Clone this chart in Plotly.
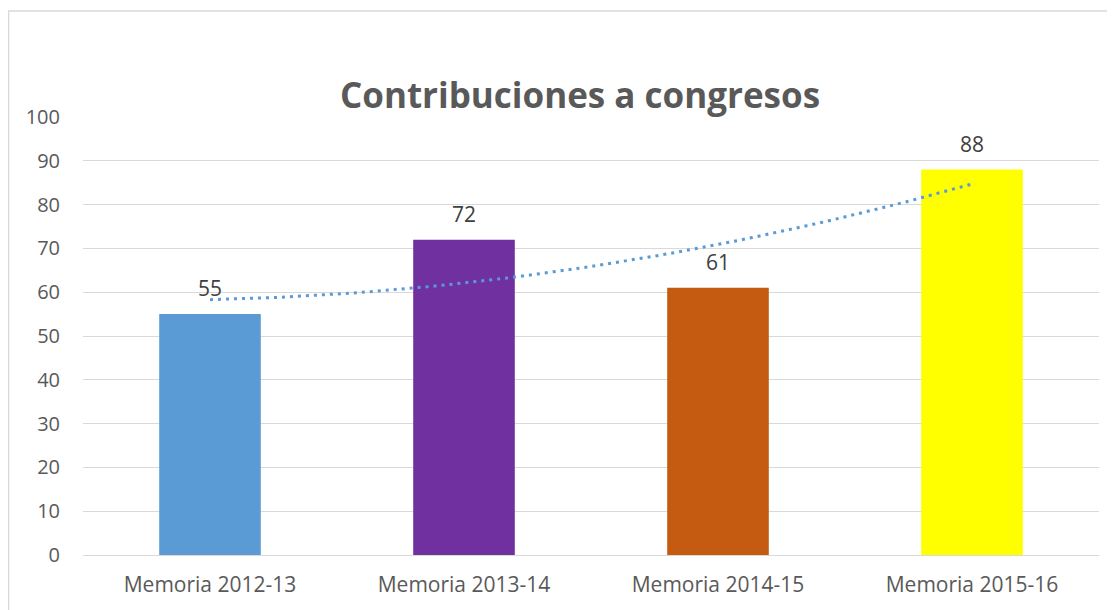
import numpy as np
import plotly.graph_objects as go

categories = ["Memoria 2012-13", "Memoria 2013-14", "Memoria 2014-15", "Memoria 2015-16"]
values = [55, 72, 61, 88]
bar_colors = ["#5B9BD5", "#7030A0", "#C55A11", "#FFFF00"]
y_ticks = list(range(0, 101, 10))

# Polynomial (order 2) trendline, as in the source spreadsheet
xi = np.arange(1, len(values) + 1)
coef = np.polyfit(xi, values, 2)
xs = np.linspace(0, len(values) - 1, 60)
trend = np.polyval(coef, xs + 1)

fig = go.Figure()
fig.add_trace(go.Bar(
    x=list(range(len(categories))), y=values, marker=dict(color=bar_colors, line=dict(width=0)),
    width=0.4, hoverinfo="skip", showlegend=False,
))
fig.add_trace(go.Scatter(
    x=xs, y=trend, mode="lines",
    line=dict(color="#5B9BD5", width=3, dash="3px,5px"),
    showlegend=False, hoverinfo="skip",
))
for i, v in enumerate(values):
    fig.add_annotation(x=i, y=v, text=str(v), showarrow=False, yshift=26,
                       font=dict(family="Open Sans", size=21, color="#404040"))

OFF = 8  # page body margin
W, H = 1115 - OFF, 610 - OFF
ml, mr, mt, mb = 83 - OFF, 16, 117 - OFF, 55
pw, ph = W - ml - mr, H - mt - mb
fig.add_shape(type="rect", xref="paper", yref="paper",
              x0=(0.5 - ml) / pw, x1=1.2, y0=-0.3, y1=(H - mb - 3) / ph,
              line=dict(color="#D9D9D9", width=1.5), fillcolor="rgba(0,0,0,0)", layer="below")

fig.update_layout(
    width=W, height=H,
    margin=dict(l=ml, r=mr, t=mt, b=mb, autoexpand=False),
    paper_bgcolor="white", plot_bgcolor="white",
    title=dict(text="<b>Contribuciones a congresos</b>", x=(580 - OFF) / W, xanchor="center",
               y=1 - (96 - OFF) / H, yanchor="middle",
               font=dict(family="Open Sans", size=35, color="#595959")),
    xaxis=dict(range=[-0.5, len(categories) - 0.5], tickmode="array",
               tickvals=list(range(len(categories))), ticktext=categories,
               showgrid=False, zeroline=False, showline=False, ticks="",
               automargin=False,
               tickfont=dict(family="Open Sans", size=21, color="#595959"),
               ticklabelstandoff=15),
    yaxis=dict(range=[0, 100], tickmode="array", tickvals=y_ticks,
               showgrid=True, gridcolor="#D9D9D9", gridwidth=1.3,
               zeroline=True, zerolinecolor="#D9D9D9", zerolinewidth=1.3,
               showline=False, ticks="", automargin=False,
               tickfont=dict(family="Open Sans", size=20, color="#595959"),
               ticklabelstandoff=22),
)
fig.write_html("out.html")
